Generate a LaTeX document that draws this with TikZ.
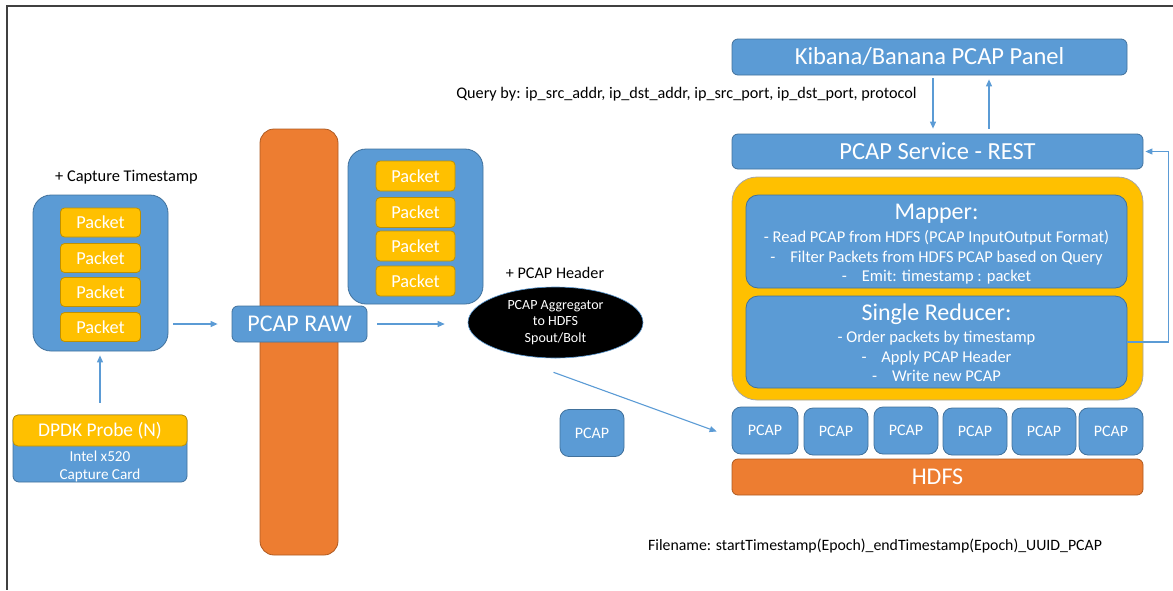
\documentclass[tikz,border=0pt]{standalone}
\usepackage{fontspec}
\setmainfont{Carlito}
\usetikzlibrary{arrows.meta,calc,shapes.geometric}
\definecolor{oblue}{HTML}{5B9BD5}
\definecolor{obluedk}{HTML}{41719C}
\definecolor{oorange}{HTML}{ED7D31}
\definecolor{oorangedk}{HTML}{AE5A21}
\definecolor{oyellow}{HTML}{FFC000}
\definecolor{oyellowdk}{HTML}{BF9000}
\definecolor{frameln}{HTML}{404040}
% font size and line spacing, both in pt
\newcommand\fsz[2]{\fontsize{#1pt}{#2pt}\selectfont}

\tikzset{
  box/.style={rectangle, inner sep=0pt, line width=0.8pt, draw=obluedk, fill=oblue,
              text=white, rounded corners=6pt},
  grpbox/.style={box, rounded corners=18pt, minimum width=135pt},
  pkt/.style={rectangle, inner sep=0pt, line width=0.8pt, draw=oyellowdk, fill=oyellow,
              text=white, rounded corners=4pt, minimum width=80pt, minimum height=29pt,
              font=\fsz{18.3}{20}},
  orangebox/.style={rectangle, inner sep=0pt, line width=0.8pt, draw=oorangedk,
              fill=oorange, text=white},
  pcapbox/.style={box, rounded corners=9pt, minimum width=64pt, minimum height=47pt,
              font=\fsz{16}{18}},
  lbl/.style={inner sep=0pt, text=black},
  bodytext/.style={inner sep=0pt, text=white, align=center, font=\fsz{16.5}{19.5}},
  arr/.style={draw=oblue, line width=1.1pt, -{Triangle[length=7pt,width=6pt]}},
}

\begin{document}
\begin{tikzpicture}[x=1pt, y=-1pt]
\useasboundingbox (0,0) rectangle (1173,590);

% page frame (top and left edges)
\draw[frameln, line width=1.2pt] (1173,6) -- (7,6) -- (7,590);

% ---------- capture side ----------
\node[lbl, font=\fsz{16.4}{18}] (capts) at (126.5,177) {+ Capture Timestamp};
\node[grpbox, minimum height=156pt] (grpA) at (100.5,273) {};
\node[pkt] (pa1) at (100.5,222.5) {Packet};
\node[pkt] (pa2) at (100.5,258) {Packet};
\node[pkt] (pa3) at (100.5,292) {Packet};
\node[pkt] (pa4) at (100.5,327) {Packet};

\node[box, rounded corners=6pt, minimum width=174pt, minimum height=67pt] (probe) at (100,448.5) {};
\node[pkt, rounded corners=5pt, minimum width=174pt, minimum height=31pt, font=\fsz{19.4}{21}] (probetop) at (100,430.5) {DPDK Probe (N)};
\node[bodytext, font=\fsz{15.2}{18}] (probecard) at (100,466) {Intel x520\\Capture Card};

% ---------- raw stream ----------
\node[orangebox, rounded corners=14pt, minimum width=78pt, minimum height=426pt] (bar) at (299,342) {};
\node[box, minimum width=135pt, minimum height=36pt, font=\fsz{24}{26}] (raw) at (299.5,324) {PCAP RAW};

\node[grpbox, minimum height=155pt] (grpB) at (415.5,226.5) {};
\node[pkt, minimum width=79pt, minimum height=30pt] (pb1) at (415.5,176) {Packet};
\node[pkt, minimum width=79pt, minimum height=30pt] (pb2) at (415.5,212.5) {Packet};
\node[pkt, minimum width=79pt, minimum height=30pt] (pb3) at (415.5,246) {Packet};
\node[pkt, minimum width=79pt, minimum height=30pt] (pb4) at (415.5,281) {Packet};

\node[lbl, font=\fsz{16.2}{18}] (hdr) at (555,273) {+ PCAP Header};
\node[ellipse, inner sep=0pt, fill=black, draw=oblue, line width=0.6pt,
      minimum width=175pt, minimum height=71pt, text=white, align=center,
      font=\fsz{14}{16.5}] (agg) at (555.5,322.5) {PCAP Aggregator\\to HDFS\\Spout/Bolt};

\node[pcapbox] (pcapS) at (592,433) {PCAP};

% ---------- query side ----------
\node[box, minimum width=395pt, minimum height=36pt, font=\fsz{24.5}{26}] (kib) at (929.5,57) {Kibana/Banana PCAP Panel};
\node[lbl, font=\fsz{16.2}{18}] (query) at (686.5,94) {Query by: ip\_src\_addr, ip\_dst\_addr, ip\_src\_port, ip\_dst\_port, protocol};
\node[box, minimum width=411pt, minimum height=35pt, font=\fsz{24.5}{26}] (svc) at (937.5,151.5) {PCAP Service - REST};

\node[rectangle, inner sep=0pt, fill=oyellow, draw=gray!70, line width=0.8pt, rounded corners=25pt,
      minimum width=411pt, minimum height=223pt] (job) at (937.5,288.5) {};
\node[box, rounded corners=12pt, minimum width=381pt, minimum height=93pt] (map) at (936.5,241.5) {};
\node[bodytext, font=\fsz{24}{26}] (mapT) at (936.5,214) {Mapper:};
\node[bodytext] (mapL) at (936.5,257.5) {- Read PCAP from HDFS (PCAP InputOutput Format)\\
  -\hspace{0.9em}Filter Packets from HDFS PCAP based on Query\\
  -\hspace{0.9em}Emit: timestamp : packet};
\node[box, rounded corners=12pt, minimum width=381pt, minimum height=92pt] (red) at (936.5,342) {};
\node[bodytext, font=\fsz{24}{26}] (redT) at (936.5,314) {Single Reducer:};
\node[bodytext] (redL) at (936.5,356.5) {- Order packets by timestamp\\
  -\hspace{0.9em}Apply PCAP Header\\
  -\hspace{0.9em}Write new PCAP};

\node[pcapbox, minimum width=66pt] (pc1) at (765,430.5) {PCAP};
\node[pcapbox] (pc2) at (836,431.5) {PCAP};
\node[pcapbox] (pc3) at (906,430.5) {PCAP};
\node[pcapbox] (pc4) at (975,431.5) {PCAP};
\node[pcapbox] (pc5) at (1044,431.5) {PCAP};
\node[pcapbox] (pc6) at (1111,431.5) {PCAP};
\node[orangebox, rounded corners=6pt, minimum width=411pt, minimum height=36pt, font=\fsz{24}{26}] (hdfs) at (937.5,477) {HDFS};

\node[lbl, font=\fsz{15.8}{18}, anchor=west] (fname) at (648,546) {Filename: startTimestamp(Epoch)\_endTimestamp(Epoch)\_UUID\_PCAP};

% ---------- connectors ----------
\draw[arr, shorten <=5pt, shorten >=14pt] (grpA.east |- raw.west) -- (raw.west);
\draw[arr, shorten <=12pt, shorten >=4pt] (probe.north) -- (probe.north |- grpA.south);
\draw[arr, shorten <=10pt, shorten >=23pt] (raw.east) -- (raw.east -| agg.west);
\draw[arr] ($(agg.south)+(-2,14)$) -- ($(pc1.west)+(-15,1)$);
\draw[arr, shorten <=3pt, shorten >=5pt] ([xshift=3.5pt]kib.south) -- ([xshift=-4.5pt]svc.north);
\draw[arr, shorten <=5pt, shorten >=4pt] ([xshift=51.5pt]svc.north) -- ([xshift=59.5pt]kib.south);
\draw[arr, shorten >=2pt] (red.east) -- ++(41,0) |- (svc.east);

\end{tikzpicture}
\end{document}
